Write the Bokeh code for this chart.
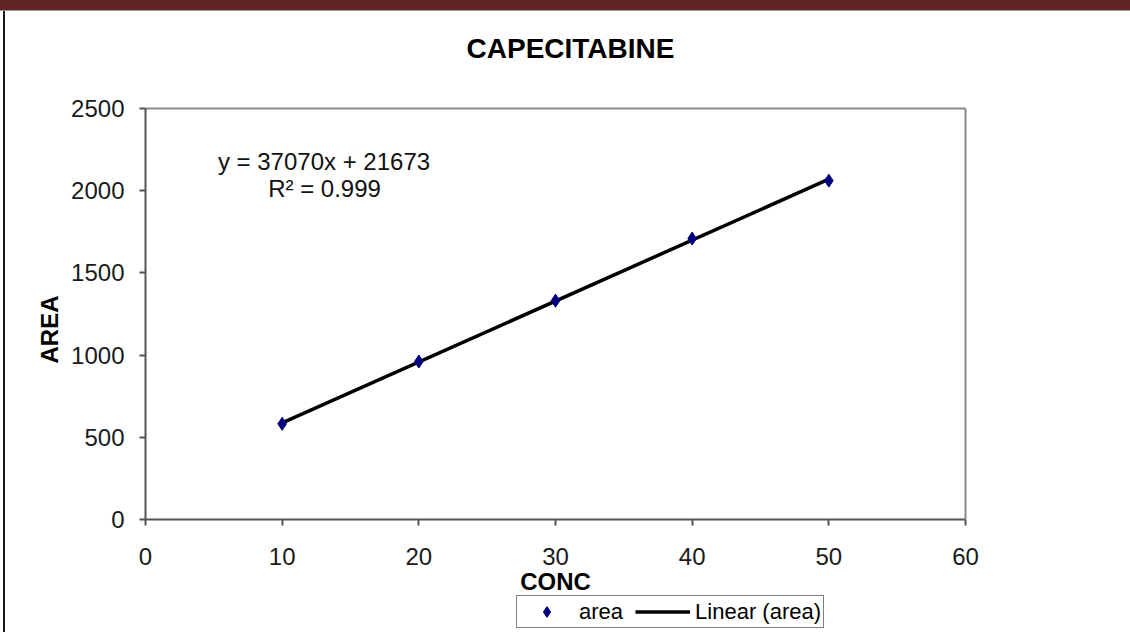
import math
import numpy as np
from bokeh.plotting import figure
from bokeh.models import Label, Legend, LegendItem, Range1d, FixedTicker, LinearAxis
from bokeh.embed import file_html
from bokeh.resources import INLINE

# ---- data ----
conc = [10, 20, 30, 40, 50]
area = [582, 961, 1331, 1709, 2061]
x_ticks = [0, 10, 20, 30, 40, 50, 60]
y_ticks = [0, 500, 1000, 1500, 2000, 2500]
title_text = "CAPECITABINE"
x_title = "CONC"
y_title = "AREA"
eq_line1 = "y = 37070x + 21673"
eq_line2 = "R\u00b2 = 0.999"

slope, intercept = np.polyfit(conc, area, 1)
fit_x = [min(conc), max(conc)]
fit_y = [slope * v + intercept for v in fit_x]

# ---- layout: the frame covers the whole canvas; the data box sits inside it ----
W, H = 1130, 632
BL, BR, BT, BB = 145, 965, 108, 519          # data box edges in px
X0, X1 = x_ticks[0], x_ticks[-1]
Y0, Y1 = y_ticks[0], y_ticks[-1]
xs = (X1 - X0) / (BR - BL)
ys = (Y1 - Y0) / (BB - BT)
x_range = Range1d(X0 - BL * xs, X1 + (W - BR) * xs)
y_range = Range1d(Y0 - (H - BB) * ys, Y1 + BT * ys)

p = figure(width=W, height=H, output_backend="svg", toolbar_location=None,
           x_range=x_range, y_range=y_range, min_border=0,
           x_axis_location=None, y_axis_location=None)
p.grid.visible = False
p.outline_line_color = None
p.background_fill_alpha = 0
p.border_fill_alpha = 0
p.styles = {
    "background": ("linear-gradient(#632523, #632523) 0 0 / 100% 10px no-repeat, "
                   "linear-gradient(#9a9a9a, #9a9a9a) 0 10px / 100% 1px no-repeat, "
                   "linear-gradient(#1a1a1a, #1a1a1a) 3px 10px / 2px 100% no-repeat, "
                   "white"),
}

FONT = "Liberation Sans"


def style_axis(ax, ticks):
    ax.ticker = FixedTicker(ticks=ticks)
    ax.axis_line_color = "#555555"
    ax.axis_line_width = 2
    ax.major_tick_line_color = "#555555"
    ax.major_tick_line_width = 2
    ax.major_tick_in = 0
    ax.major_tick_out = 6
    ax.minor_tick_line_color = None
    ax.major_label_text_font = FONT
    ax.major_label_text_font_size = "24px"
    ax.major_label_text_color = "#1a1a1a"
    ax.axis_label_text_font = FONT
    ax.axis_label_text_font_size = "24px"
    ax.axis_label_text_font_style = "bold"
    ax.axis_label_text_color = "black"


xaxis = LinearAxis(fixed_location=Y0, bounds=(X0, X1), axis_label=x_title,
                   major_label_standoff=22, axis_label_standoff=0)
style_axis(xaxis, x_ticks)
p.add_layout(xaxis, "below")

yaxis = LinearAxis(fixed_location=X0, bounds=(Y0, Y1),
                   major_label_standoff=15)
style_axis(yaxis, y_ticks)
p.add_layout(yaxis, "left")

# light grey top and right edges of the plot area
top_edge = LinearAxis(fixed_location=Y1, bounds=(X0, X1), ticker=FixedTicker(ticks=[]),
                      axis_line_color="#8a8a8a", axis_line_width=2,
                      major_tick_line_color=None, minor_tick_line_color=None)
p.add_layout(top_edge, "above")
right_edge = LinearAxis(fixed_location=X1, bounds=(Y0, Y1), ticker=FixedTicker(ticks=[]),
                        axis_line_color="#8a8a8a", axis_line_width=2,
                        major_tick_line_color=None, minor_tick_line_color=None)
p.add_layout(right_edge, "right")

line_r = p.line(fit_x, fit_y, line_color="black", line_width=3.5)
pts_r = p.scatter(conc, area, marker="diamond", size=13,
                  fill_color="#000080", line_color="#000080")

legend = Legend(items=[LegendItem(label="area", renderers=[pts_r]),
                       LegendItem(label="Linear (area)", renderers=[line_r])],
                orientation="horizontal",
                location=(516, H - 628),
                border_line_color="black", border_line_width=1,
                background_fill_color="white", background_fill_alpha=1,
                label_text_font=FONT, label_text_font_size="22px",
                label_text_color="black",
                glyph_width=55, glyph_height=27, label_standoff=5,
                spacing=12, padding=2, margin=0)
p.add_layout(legend, "center")

# chart title, y-axis title and trend-line equation (screen px from bottom-left)
p.add_layout(Label(x=570, y=H - 48, x_units="screen", y_units="screen",
                   text=title_text, text_font=FONT, text_font_size="28px",
                   text_font_style="bold", text_align="center",
                   text_baseline="middle", text_color="black"))
p.add_layout(Label(x=49, y=H - 329, x_units="screen", y_units="screen",
                   text=y_title, angle=math.pi / 2, text_font=FONT,
                   text_font_size="24px", text_font_style="bold",
                   text_align="center", text_baseline="middle",
                   text_color="black"))
p.add_layout(Label(x=323.5, y=H - 161, x_units="screen", y_units="screen",
                   text=eq_line1, text_font=FONT, text_font_size="24px",
                   text_align="center", text_baseline="middle",
                   text_color="#111111"))
p.add_layout(Label(x=324, y=H - 187.5, x_units="screen", y_units="screen",
                   text=eq_line2, text_font=FONT, text_font_size="24px",
                   text_align="center", text_baseline="middle",
                   text_color="#111111"))

open("out.html", "w").write(file_html(p, INLINE))
